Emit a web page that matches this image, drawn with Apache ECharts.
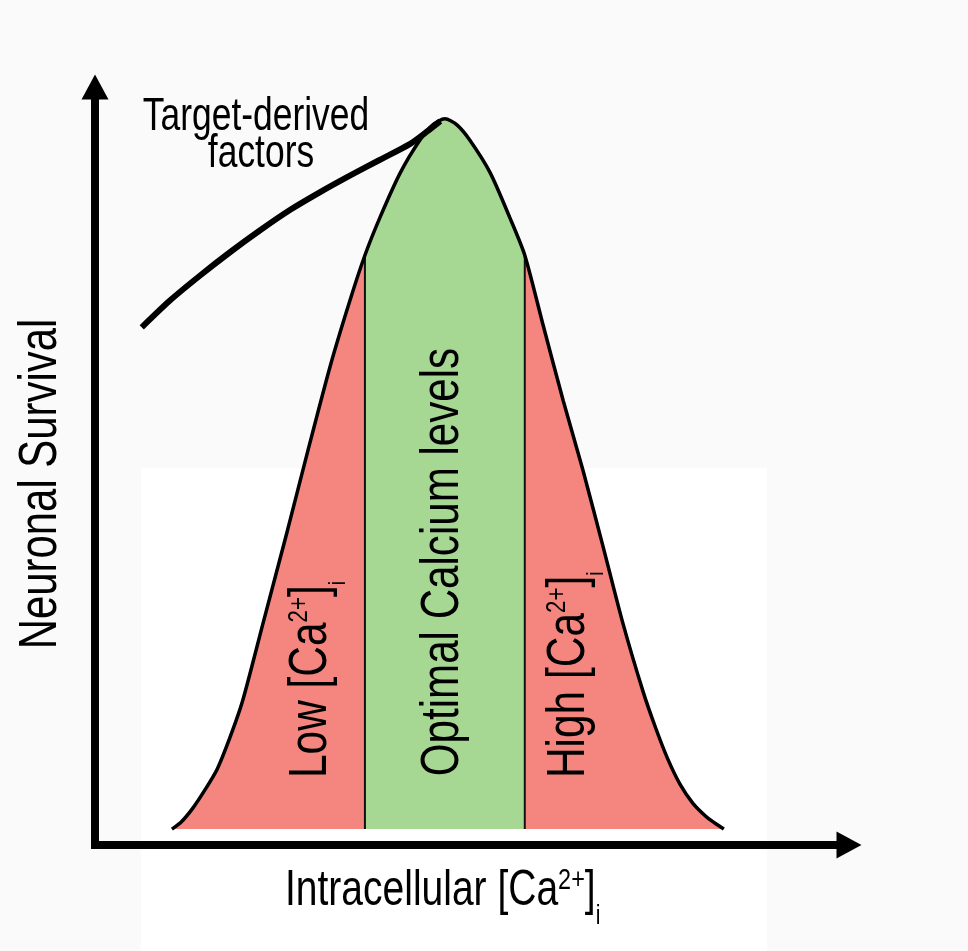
<!DOCTYPE html>
<html>
<head>
<meta charset="utf-8">
<script src="https://cdn.jsdelivr.net/npm/echarts@6/dist/echarts.min.js"></script>
<style>
html,body{margin:0;padding:0;background:#fafafa;}
#chart{width:968px;height:951px;}
</style>
</head>
<body>
<div id="chart"></div>
<script>
// ---- data (arbitrary units: x = intracellular Ca2+, y = neuronal survival) ----
const bellX = [10.2, 11.4, 13.0, 14.6, 16.2, 17.9, 19.6, 22.3, 25.5, 28.1, 31.2, 33.8, 35.8, 37.8, 40.5, 43.1, 44.8, 46.4,
               48.0, 49.7, 52.4, 55.0, 57.0, 59.4, 62.1, 64.7, 67.4, 70.0, 72.7, 74.3, 75.9, 77.6, 79.3, 81.0, 82.2, 83.4];
const bellY = [2.1, 3.0, 4.9, 7.3, 10.0, 14.2, 19.1, 29.3, 41.4, 51.5, 63.2, 71.8, 77.8, 82.8, 88.7, 93.0, 95.0, 95.8,
               95.0, 93.0, 88.7, 82.8, 77.8, 68.7, 58.6, 49.5, 39.3, 29.3, 20.2, 15.6, 11.5, 8.0, 5.5, 3.8, 2.9, 2.1];
const baseline = 2.1;
const optimalRange = [35.8, 57.0];
const targetX = [6.2, 9.9, 13.9, 17.9, 21.9, 25.9, 29.8, 33.8, 37.8, 41.8, 44.0, 45.8];
const targetY = [68.3, 71.8, 75.1, 78.2, 81.1, 83.8, 86.1, 88.3, 90.4, 92.5, 94.1, 95.5];

// ---- text ----
const xAxisTitle = 'Intracellular [Ca{sup|2+}]{sub|i}';
const yAxisTitle = 'Neuronal Survival';
const lowLabel = 'Low [Ca{sup|2+}]{sub|i}';
const optimalLabel = 'Optimal Calcium levels';
const highLabel = 'High [Ca{sup|2+}]{sub|i}';
const curveLabel = ['Target-derived', 'factors'];

const FONT = '"Liberation Sans", Arial, Helvetica, sans-serif';
const PINK = '#F4867F';
const GREEN = '#A6D894';

const bellPts = bellX.map((x, i) => [x, bellY[i]]);
const greenPts = bellPts.filter(p => p[0] >= optimalRange[0] && p[0] <= optimalRange[1]);
const targetPts = targetX.map((x, i) => [x, targetY[i]]);
function curveAt(x) { const p = bellPts.find(q => q[0] === x); return p ? p[1] : 0; }

function richFor(supSize, supPad, subSize, subPad) {
  return {
    sup: { font: supSize + 'px ' + FONT, fill: '#000', padding: [0, 0, supPad, 0] },
    sub: { font: subSize + 'px ' + FONT, fill: '#000', padding: [subPad, 0, 0, 0] }
  };
}
function label(opts) {
  const st = {
    text: opts.text,
    font: opts.size + 'px ' + FONT,
    fill: '#000',
    align: opts.align || 'center', textAlign: opts.align || 'center',
    verticalAlign: 'middle', textVerticalAlign: 'middle'
  };
  if (opts.rich) st.rich = opts.rich;
  return {
    type: 'text', x: opts.x, y: opts.y, rotation: opts.rot || 0,
    scaleX: opts.sx || 0.78, z: 100, silent: true, style: st
  };
}

const chart = echarts.init(document.getElementById('chart'), null, { renderer: 'canvas' });
const axisCommon = {
  type: 'value', min: 0, max: 100,
  axisTick: { show: false }, axisLabel: { show: false }, splitLine: { show: false },
  axisLine: {
    show: true, onZero: false,
    symbol: ['none', 'triangle'], symbolSize: [27, 25],
    lineStyle: { color: '#000', width: 8, cap: 'square' }
  }
};

chart.setOption({
  backgroundColor: '#fafafa',
  animation: false,
  grid: { left: 95, right: 119, top: 87, bottom: 106 },
  xAxis: axisCommon,
  yAxis: axisCommon,
  series: [
    { type: 'line', data: bellPts, smooth: 0.25, showSymbol: false, silent: true,
      lineStyle: { opacity: 0 }, areaStyle: { color: PINK, opacity: 1, origin: baseline }, z: 2 },
    { type: 'line', data: greenPts, smooth: 0.25, showSymbol: false, silent: true,
      lineStyle: { opacity: 0 }, areaStyle: { color: GREEN, opacity: 1, origin: baseline }, z: 3 },
    { type: 'line', data: [[optimalRange[0], baseline], [optimalRange[0], curveAt(optimalRange[0])]],
      showSymbol: false, silent: true, lineStyle: { color: '#111', width: 2 }, z: 4 },
    { type: 'line', data: [[optimalRange[1], baseline], [optimalRange[1], curveAt(optimalRange[1])]],
      showSymbol: false, silent: true, lineStyle: { color: '#111', width: 2 }, z: 4 },
    { type: 'line', data: bellPts, smooth: 0.25, showSymbol: false, silent: true,
      lineStyle: { color: '#000', width: 3.5 }, z: 5 },
    { type: 'line', data: targetPts, smooth: 0.25, showSymbol: false, silent: true,
      lineStyle: { color: '#000', width: 6 }, z: 6 }
  ],
  graphic: [
    { type: 'rect', z: -1, silent: true, shape: { x: 141, y: 468, width: 626, height: 483 }, style: { fill: '#ffffff' } },
    label({ text: curveLabel[0], x: 256, y: 117, size: 46, sx: 0.77 }),
    label({ text: curveLabel[1], x: 261, y: 154, size: 46, sx: 0.77 }),
    label({ text: yAxisTitle, x: 41, y: 484, size: 53, rot: Math.PI / 2, sx: 0.79 }),
    label({ text: optimalLabel, x: 443, y: 562, size: 54, rot: Math.PI / 2, sx: 0.78 }),
    label({ text: lowLabel, x: 311, y: 778, size: 53, rot: Math.PI / 2, align: 'left', sx: 0.8,
            rich: richFor(28, 24, 24, 54) }),
    label({ text: highLabel, x: 569, y: 778, size: 53, rot: Math.PI / 2, align: 'left', sx: 0.8,
            rich: richFor(28, 24, 24, 54) }),
    label({ text: xAxisTitle, x: 285, y: 891, size: 50, align: 'left', sx: 0.78,
            rich: richFor(30, 20, 27, 52) })
  ]
});
</script>
</body>
</html>
